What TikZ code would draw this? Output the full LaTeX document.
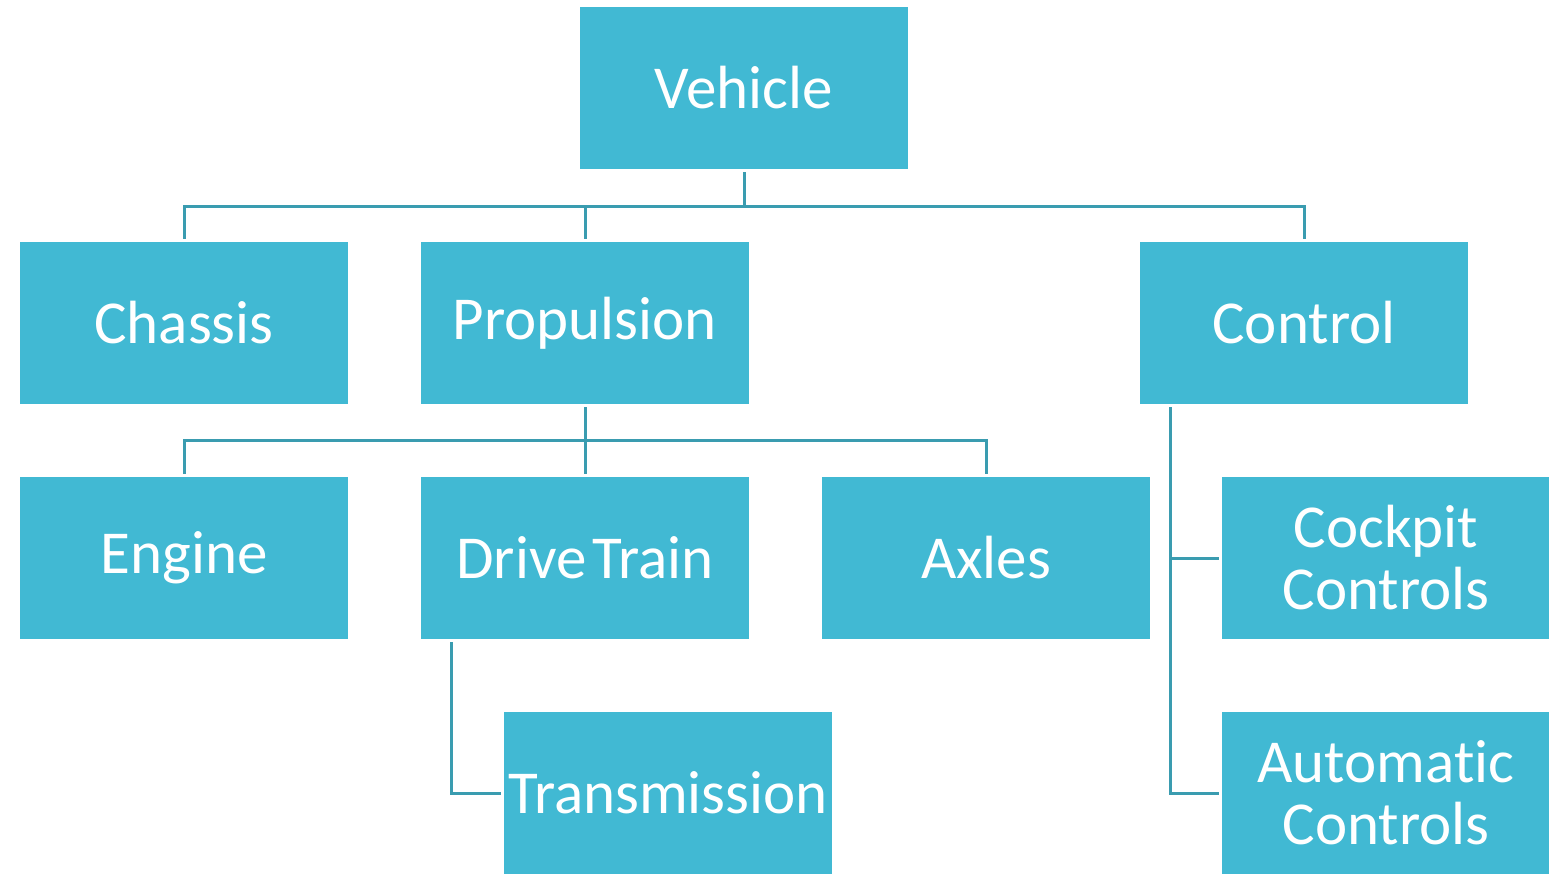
\documentclass[tikz,border=0pt]{standalone}
\usepackage{fontspec}
\setmainfont{Carlito}[Ligatures=NoCommon]
\usetikzlibrary{calc}
\definecolor{boxblue}{HTML}{41B9D3}
\definecolor{linkteal}{HTML}{3A9CB0}

\begin{document}
\begin{tikzpicture}[x=0.5pt, y=-0.5pt,
  box/.style={fill=boxblue, text=white, minimum width=164pt, minimum height=81pt,
    text width=160pt, inner sep=0pt, align=center, font=\fontsize{30.5}{31}\selectfont},
  link/.style={linkteal, line width=1.5pt, shorten <=1.5pt, shorten >=1.5pt}]
  \useasboundingbox (0,0) rectangle (1549,875);

  % --- level 0 ---
  \node[box] (veh) at (744,88) {Vehicle};
  % --- level 1 ---
  \node[box] (chas) at (184,323) {Chassis};
  \node[box] (prop) at (585,323) {Propulsion};
  \node[box] (ctl)  at (1304,323) {Control};
  % --- level 2 ---
  \node[box] (eng)  at (184,558) {Engine};
  \node[box] (drv)  at (585,558) {\spaceskip=0.1em\relax Drive Train};
  \node[box] (axl)  at (986,558) {Axles};
  \node[box] (cock) at (1386,558) {Cockpit\\Controls};
  % --- level 3 ---
  \node[box] (trans) at (668,793) {Transmission};
  \node[box] (auto)  at (1386,793) {Automatic\\Controls};

  % === vehicle -> subsystems ===
  \draw[link] (veh.south) -- ++(0,37) -| (chas.north);
  \draw[link] (veh.south) -- ++(0,37) -| (prop.north);
  \draw[link] (veh.south) -- ++(0,37) -| (ctl.north);

  % === propulsion -> parts ===
  \draw[link] (prop.south) -- ++(0,36) -| (eng.north);
  \draw[link] (prop.south) -- (drv.north);
  \draw[link] (prop.south) -- ++(0,36) -| (axl.north);

  % === side branches (spine hangs off the lower-left corner) ===
  \draw[link] ($(drv.south west)+(31,0)$) |- (trans.west);
  \draw[link] ($(ctl.south west)+(31,0)$) |- (cock.west);
  \draw[link] ($(ctl.south west)+(31,0)$) |- (auto.west);
\end{tikzpicture}
\end{document}
